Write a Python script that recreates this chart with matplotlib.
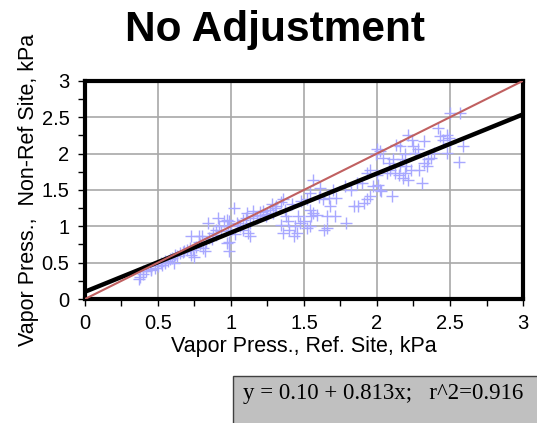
import numpy as np
import matplotlib.pyplot as plt
from matplotlib.patches import Rectangle

plt.rcParams['font.family'] = ['Liberation Sans', 'DejaVu Sans']

# 读图估计的散点 (kPa)
ref_x = [0.37, 0.38, 0.40, 0.42, 0.45, 0.48, 0.50, 0.53, 0.55, 0.57, 0.61, 0.58, 0.63, 0.65, 0.67,
         0.70, 0.73, 0.75, 0.74, 0.76, 0.79, 0.82, 0.81, 0.73, 0.78, 0.80, 0.83, 0.87, 0.88, 0.90,
         0.84, 0.92, 0.91, 0.95, 0.97, 0.99, 0.98, 0.97, 0.99, 0.99, 1.02, 1.00, 1.03, 1.04, 1.06,
         1.08, 1.10, 1.11, 1.12, 1.13, 1.13, 1.15, 1.18, 1.15, 1.20, 1.22, 1.24, 1.27, 1.28, 1.29,
         1.31, 1.34, 1.36, 1.37, 1.38, 1.39, 1.34, 1.36, 1.40, 1.43, 1.45, 1.44, 1.46, 1.47, 1.50,
         1.52, 1.54, 1.55, 1.56, 1.59, 1.54, 1.52, 1.54, 1.56, 1.61, 1.63, 1.67, 1.68, 1.66, 1.71,
         1.66, 1.64, 1.72, 1.79, 1.84, 1.87, 1.82, 1.86, 1.91, 1.93, 1.95, 1.95, 1.93, 1.97, 2.01,
         2.02, 2.03, 2.10, 1.99, 2.00, 2.02, 2.04, 2.08, 2.09, 2.12, 2.15, 2.18, 2.21, 2.16, 2.17,
         2.19, 2.21, 2.24, 2.25, 2.26, 2.28, 2.29, 2.32, 2.31, 2.34, 2.35, 2.37, 2.39, 2.42, 2.43,
         2.45, 2.48, 2.49, 2.50, 2.48, 2.50, 2.57, 2.59, 2.56, 2.32, 2.16, 2.13, 2.11, 2.07, 2.23,
         2.20, 2.19,
         0.40, 0.45, 0.52, 0.55, 0.60, 0.62, 0.68, 0.72, 0.78, 0.85, 0.90, 0.93, 1.05, 1.08, 1.20,
         1.25, 1.30, 1.42, 1.48, 1.60, 1.70, 1.78, 1.90, 2.00]
nonref_y = [0.28, 0.31, 0.35, 0.38, 0.40, 0.43, 0.45, 0.47, 0.50, 0.52, 0.50, 0.55, 0.59, 0.63, 0.64,
            0.68, 0.61, 0.58, 0.68, 0.72, 0.75, 0.66, 0.70, 0.86, 0.86, 0.87, 0.79, 0.82, 0.91, 0.95,
            1.04, 1.00, 1.11, 1.07, 1.09, 1.07, 1.00, 0.77, 0.79, 0.66, 1.25, 0.95, 0.89, 1.05, 1.00,
            0.95, 1.11, 1.18, 0.91, 0.86, 1.05, 1.14, 1.11, 1.21, 1.16, 1.21, 1.14, 1.23, 1.30, 1.18,
            1.28, 1.34, 1.37, 1.23, 1.14, 1.07, 1.02, 0.91, 0.95, 0.86, 0.91, 1.00, 1.14, 1.05, 1.07,
            0.98, 1.00, 1.14, 1.18, 1.16, 1.23, 1.37, 1.46, 1.64, 1.53, 1.37, 1.39, 1.28, 1.14, 1.14,
            0.98, 0.95, 1.39, 1.05, 1.28, 1.28, 1.50, 1.60, 1.32, 1.37, 1.41, 1.78, 1.73, 1.55, 1.57,
            1.50, 1.48, 1.42, 1.99, 2.06, 2.03, 1.94, 1.87, 1.78, 1.73, 1.71, 1.67, 1.64, 1.83, 1.92,
            1.99, 2.26, 2.19, 2.10, 2.01, 2.06, 1.78, 1.87, 1.60, 1.83, 1.92, 1.94, 2.01, 2.35, 2.24,
            2.19, 2.26, 2.22, 2.15, 2.01, 2.56, 2.56, 2.10, 1.89, 2.17, 2.10, 2.12, 1.92, 1.73, 1.78,
            1.83, 1.73,
            0.38, 0.42, 0.49, 0.53, 0.56, 0.60, 0.66, 0.70, 0.78, 0.84, 0.88, 0.93, 1.02, 1.08, 1.20,
            1.17, 1.25, 1.30, 1.35, 1.40, 1.50, 1.55, 1.60, 1.70]

# 回归结果
intercept = 0.10
slope = 0.813
r2 = 0.916

fig = plt.figure(figsize=(5.37, 4.23), dpi=100)
ax = fig.add_axes([0.158, 0.293, 0.816, 0.516])

ax.plot(ref_x, nonref_y, '+', color='#a8a8ff', markersize=8, markeredgewidth=1.0, zorder=2)
line_x = np.array([0, 3])
ax.plot(line_x, intercept + slope * line_x, color='black', linewidth=3.2, zorder=3)
ax.plot(line_x, line_x, color='#c06060', linewidth=1.5, zorder=4)

ax.set_xlim(0, 3)
ax.set_ylim(0, 3)
ticks = [0, 0.5, 1, 1.5, 2, 2.5, 3]
ax.set_xticks(ticks)
ax.set_yticks(ticks)
ax.set_xticklabels(['0', '0.5', '1', '1.5', '2', '2.5', '3'])
ax.set_yticklabels(['0', '0.5', '1', '1.5', '2', '2.5', '3'])
ax.set_xticks(np.arange(0.25, 3, 0.5), minor=True)
ax.set_yticks(np.arange(0.25, 3, 0.5), minor=True)
ax.tick_params(which='both', direction='out', length=5, width=1, labelsize=14.5, pad=6)
ax.grid(True, color='#a8a8a8', linewidth=1.2, zorder=0)
ax.set_axisbelow(True)
for s in ax.spines.values():
    s.set_linewidth(3)

ax.set_xlabel('Vapor Press., Ref. Site, kPa', fontsize=15.5, labelpad=2)
ax.set_ylabel('Vapor Press.,  Non-Ref Site, kPa', fontsize=15.5, labelpad=2)
fig.text(0.512, 0.93, 'No Adjustment', fontsize=30.5, fontweight='bold', ha='center', va='center')

# 右下角的回归方程框
fig.patches.append(Rectangle((0.434, -0.01), 0.6, 0.12, transform=fig.transFigure,
                             facecolor='#c0c0c0', edgecolor='#404040', linewidth=1))
fig.text(0.452, 0.069, f'y = {intercept:.2f} + {slope}x;   r^2={r2}',
         fontsize=16.5, family='Liberation Serif', va='center', ha='left')

plt.savefig('out.png', dpi=100)
